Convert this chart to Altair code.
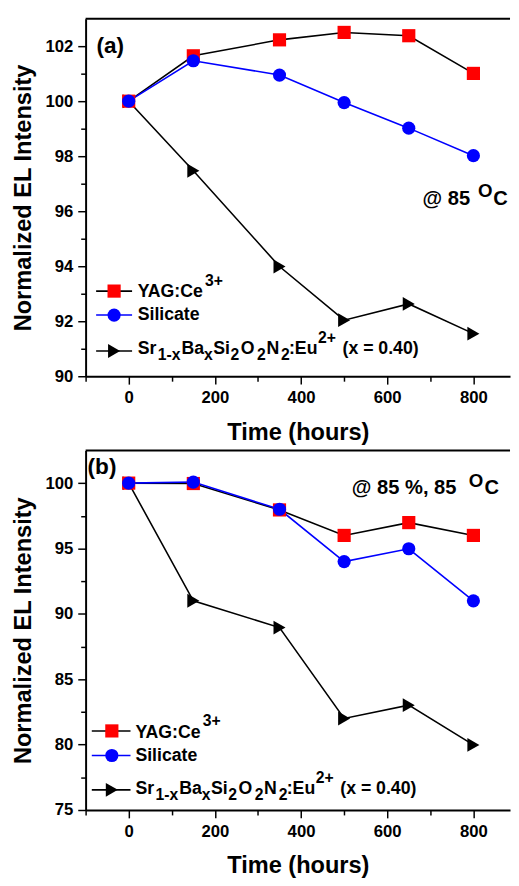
import altair as alt
import pandas as pd

# ---------------- data ----------------
time_h = [0, 150, 350, 500, 650, 800]
series_names = ["YAG:Ce3+", "Silicate", "SrBaSiON:Eu2+ (x = 0.40)"]

a_yag = [100.0, 101.65, 102.23, 102.5, 102.38, 101.01]
a_sil = [100.0, 101.47, 100.95, 99.95, 99.02, 98.02]
a_sr = [100.0, 97.47, 93.99, 92.04, 92.63, 91.55]

b_yag = [100.0, 99.97, 97.95, 96.0, 96.98, 96.0]
b_sil = [100.0, 100.08, 98.0, 94.0, 94.98, 91.0]
b_sr = [100.0, 91.0, 88.95, 82.0, 83.02, 79.98]

x_ticks = [-100, 0, 100, 200, 300, 400, 500, 600, 700, 800]
a_y_ticks = [90, 91, 92, 93, 94, 95, 96, 97, 98, 99, 100, 101, 102]
b_y_ticks = [75, 77.5, 80, 82.5, 85, 87.5, 90, 92.5, 95, 97.5, 100]

# ---------------- styles / layout ----------------
FONT = "Liberation Sans"
W = 432
H_A = 364
H_B = 366
X_DOMAIN = [-100, 885]

style = {
    "YAG:Ce3+": dict(lc="#000000", mc="#ff0000", shape="square", sz=180),
    "Silicate": dict(lc="#0000ff", mc="#0000ff", shape="circle", sz=180),
    "SrBaSiON:Eu2+ (x = 0.40)": dict(lc="#000000", mc="#000000", shape="triangle-right", sz=200),
}
draw_order = ["SrBaSiON:Eu2+ (x = 0.40)", "YAG:Ce3+", "Silicate"]

MAIN = 18
SMALL = 16
SUP = -11.6
SUB = 5.6

# legend text pieces: (text, x offset, kind)
legend_rows = {
    "YAG:Ce3+": [("YAG:Ce", 0, "main"), ("3+", 68.5, "sup")],
    "Silicate": [("Silicate", 0, "main")],
    "SrBaSiON:Eu2+ (x = 0.40)": [
        ("Sr", 0, "main"), ("1-x", 20.5, "sub"), ("Ba", 44.5, "main"),
        ("x", 67.5, "sub"), ("Si", 77, "main"), ("2", 94.5, "sub"),
        ("O", 105, "main"), ("2", 121.5, "sub"), ("N", 131, "main"),
        ("2", 146, "sub"), (":Eu", 154, "main"), ("2+", 183.5, "sup"),
        ("(x = 0.40)", 208.5, "main"),
    ],
}
legend_order = ["YAG:Ce3+", "Silicate", "SrBaSiON:Eu2+ (x = 0.40)"]

AXIS_COMMON = dict(
    labelOverlap=False, labelFlush=False, grid=False,
    domainColor="black", domainWidth=2, tickColor="black", tickWidth=1.5,
    labelFont=FONT, labelFontSize=17, labelFontWeight="bold", labelColor="black",
    titleFont=FONT, titleFontSize=24, titleFontWeight="bold", titleColor="black",
)


def make_axis_x():
    return alt.Axis(
        values=x_ticks, format="d", title="Time (hours)",
        labelExpr="datum.value % 200 === 0 ? datum.label : ''",
        tickSize={"condition": {"test": "datum.value % 200 === 0", "value": 8}, "value": 5},
        labelPadding=6, titlePadding=15, **AXIS_COMMON,
    )


def make_axis_y(values, step):
    return alt.Axis(
        values=values, format="d", title="Normalized EL Intensity",
        labelExpr=f"datum.value % {step} === 0 ? datum.label : ''",
        tickSize={"condition": {"test": f"datum.value % {step} === 0", "value": 8}, "value": 5},
        labelPadding=5, titlePadding=10, **AXIS_COMMON,
    )


def panel(values, y_domain, y_ticks, step, height, tag, tag_y, anno, legend_geo):
    rows = []
    for name in draw_order:
        for t, v in zip(time_h, values[name]):
            rows.append(dict(series=name, t=t, v=v, **style[name]))
    df = pd.DataFrame(rows)

    x = alt.X("t:Q", scale=alt.Scale(domain=X_DOMAIN, nice=False, zero=False), axis=make_axis_x())
    y = alt.Y("v:Q", scale=alt.Scale(domain=y_domain, nice=False, zero=False), axis=make_axis_y(y_ticks, step))

    lines = alt.Chart(df).mark_line(strokeWidth=1.6).encode(
        x=x, y=y, color=alt.Color("lc:N", scale=None), detail="series:N", order="t:Q")
    pts = alt.Chart(df).mark_point(filled=True, opacity=1, strokeWidth=0).encode(
        x=x, y=y, color=alt.Color("mc:N", scale=None),
        shape=alt.Shape("shape:N", scale=None), size=alt.Size("sz:Q", scale=None))

    frame = alt.Chart(pd.DataFrame({"a": [0]})).mark_rule(color="black", strokeWidth=2).encode(
        x=alt.value(0), x2=alt.value(W), y=alt.value(0))

    # legend geometry
    lx1, lx2, mx, tx, marker_y, base_y = legend_geo
    seg_rows, mk_rows, txt_rows = [], [], []
    for i, name in enumerate(legend_order):
        st = style[name]
        seg_rows.append(dict(px=lx1, px2=lx2, py=marker_y[i], lc=st["lc"]))
        mk_rows.append(dict(px=mx, py=marker_y[i], mc=st["mc"], shape=st["shape"], sz=st["sz"]))
        for text, off, kind in legend_rows[name]:
            dy = {"main": 0, "sup": SUP, "sub": SUB}[kind]
            fs = MAIN if kind == "main" else SMALL
            txt_rows.append(dict(px=tx + off, py=base_y[i] + dy, txt=text, fs=fs))
    # tag and annotation
    txt_rows.append(dict(px=tag[1], py=tag_y, txt=tag[0], fs=23))
    (main_txt, mx0), (o_txt, ox0), (c_txt, cx0), by = anno
    txt_rows.append(dict(px=mx0, py=by, txt=main_txt, fs=20.5))
    txt_rows.append(dict(px=ox0, py=by - 7.6, txt=o_txt, fs=19))
    txt_rows.append(dict(px=cx0, py=by, txt=c_txt, fs=20.5))

    px = lambda f: alt.X(f, scale=None, axis=None)
    py = lambda f: alt.Y(f, scale=None, axis=None)
    seg = alt.Chart(pd.DataFrame(seg_rows)).mark_rule(strokeWidth=1.6).encode(
        x=px("px:Q"), x2="px2:Q", y=py("py:Q"), color=alt.Color("lc:N", scale=None))
    mk = alt.Chart(pd.DataFrame(mk_rows)).mark_point(filled=True, opacity=1, strokeWidth=0).encode(
        x=px("px:Q"), y=py("py:Q"), color=alt.Color("mc:N", scale=None),
        shape=alt.Shape("shape:N", scale=None), size=alt.Size("sz:Q", scale=None))
    txt = alt.Chart(pd.DataFrame(txt_rows)).mark_text(
        align="left", baseline="alphabetic", font=FONT, fontWeight="bold", color="black").encode(
        x=px("px:Q"), y=py("py:Q"), text="txt:N", size=alt.Size("fs:Q", scale=None))

    return alt.layer(lines, pts, frame, seg, mk, txt).properties(width=W, height=height)


panel_a = panel(
    {"YAG:Ce3+": a_yag, "Silicate": a_sil, "SrBaSiON:Eu2+ (x = 0.40)": a_sr},
    [90, 103], a_y_ticks, 2, H_A, ("(a)", 11), 35,
    (("@ 85", 343), ("O", 399.5), ("C", 415), 189.3),
    (10.7, 47.3, 29, 53, [277.3, 301.7, 338.3], [283.3, 306.7, 341.7]),
)
panel_b = panel(
    {"YAG:Ce3+": b_yag, "Silicate": b_sil, "SrBaSiON:Eu2+ (x = 0.40)": b_sr},
    [75, 102.5], b_y_ticks, 5, H_B, ("(b)", 2), 24,
    (("@  85 %, 85", 271), ("O", 390), ("C", 406), 44.5),
    (6.3, 45.7, 26.7, 50.7, [285.5, 310.5, 345.5], [292.2, 316.5, 349.8]),
)

chart = alt.vconcat(panel_a, panel_b, spacing=5.5).properties(
    padding={"left": 3, "top": 2, "right": 0, "bottom": 0}, background="white"
).configure_view(stroke=None)

chart.save("out.html", embed_options={"renderer": "svg", "actions": False})
